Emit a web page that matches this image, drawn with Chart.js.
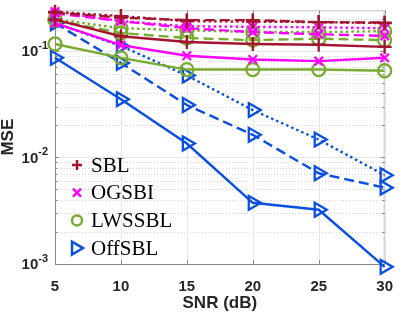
<!DOCTYPE html>
<html>
<head>
<meta charset="utf-8">
<script src="https://cdn.jsdelivr.net/npm/chart.js@4/dist/chart.umd.min.js"></script>
<style>
  html, body { margin: 0; padding: 0; background: #fff; }
  canvas { display: block; }
</style>
</head>
<body>
<canvas id="mse" width="407" height="316"></canvas>
<script>
// SNR (dB) on the x axis
const snr = [5, 10, 15, 20, 25, 30];

// MSE values, three runs per method (solid, dashed, dotted)
const sblSolid  = [0.196, 0.137, 0.121, 0.116, 0.114, 0.109];
const sblDashed = [0.228, 0.205, 0.194, 0.194, 0.186, 0.184];
const sblDotted = [0.232, 0.212, 0.190, 0.188, 0.186, 0.182];

const ogsbiSolid  = [0.182, 0.113, 0.090, 0.083, 0.080, 0.086];
const ogsbiDashed = [0.225, 0.190, 0.163, 0.150, 0.143, 0.138];
const ogsbiDotted = [0.234, 0.190, 0.170, 0.168, 0.166, 0.163];

const lwssblSolid  = [0.116, 0.086, 0.0667, 0.0667, 0.0667, 0.065];
const lwssblDashed = [0.194, 0.147, 0.132, 0.126, 0.130, 0.126];
const lwssblDotted = [0.198, 0.163, 0.156, 0.150, 0.150, 0.153];

const offsblSolid  = [0.086, 0.0352, 0.0135, 0.00375, 0.00323, 0.00094];
const offsblDashed = [0.182, 0.077, 0.031, 0.0163, 0.0071, 0.0052];
const offsblDotted = [0.182, 0.111, 0.0587, 0.0278, 0.0147, 0.0068];

const xTicks = [5, 10, 15, 20, 25, 30];
const yDecades = [-3, -2, -1];

const methods = [
  { name: 'SBL',    color: '#a2142f', marker: 'cross',    rot: 0,  r: 7,   runs: [sblSolid, sblDashed, sblDotted] },
  { name: 'OGSBI',  color: '#ff00ff', marker: 'crossRot', rot: 0,  r: 6,   runs: [ogsbiSolid, ogsbiDashed, ogsbiDotted] },
  { name: 'LWSSBL', color: '#77ac30', marker: 'circle',   rot: 0,  r: 6.5, runs: [lwssblSolid, lwssblDashed, lwssblDotted] },
  { name: 'OffSBL', color: '#0a4fe0', marker: 'triangle', rot: 90, r: 8,   runs: [offsblSolid, offsblDashed, offsblDotted] }
];
const dashes = [[], [10, 5], [2.5, 3]];

const datasets = [];
methods.forEach(m => {
  m.runs.forEach((vals, i) => {
    datasets.push({
      label: m.name,
      data: vals.map((v, k) => ({ x: snr[k], y: v })),
      borderColor: m.color,
      borderWidth: 2.4,
      borderDash: dashes[i],
      backgroundColor: 'rgba(0,0,0,0)',
      pointStyle: m.marker,
      pointRotation: m.rot,
      pointRadius: m.r,
      pointBorderWidth: 2.3,
      pointBorderColor: m.color,
      pointBackgroundColor: 'rgba(0,0,0,0)',
      fill: false,
      tension: 0,
      clip: false
    });
  });
});

function seg(ctx, x1, y1, x2, y2) {
  ctx.beginPath();
  ctx.moveTo(x1, y1);
  ctx.lineTo(x2, y2);
  ctx.stroke();
}

// matlab-ish box, grid and tick marks
const frame = {
  id: 'frame',
  beforeDatasetsDraw(chart) {
    const { ctx, chartArea: a, scales: { x, y } } = chart;
    ctx.save();
    ctx.lineWidth = 1;

    // minor log grid (dotted)
    ctx.strokeStyle = '#d6d6d6';
    ctx.setLineDash([1, 2]);
    yDecades.forEach(e => {
      for (let m = 2; m <= 9; m++) {
        const v = m * Math.pow(10, e);
        if (v > y.max) break;
        const py = Math.round(y.getPixelForValue(v)) + 0.5;
        seg(ctx, a.left, py, a.right, py);
      }
    });

    // major grid
    ctx.setLineDash([]);
    ctx.strokeStyle = '#e6e6e6';
    xTicks.forEach(t => {
      const px = Math.round(x.getPixelForValue(t)) + 0.5;
      seg(ctx, px, a.top, px, a.bottom);
    });
    yDecades.forEach(e => {
      const py = Math.round(y.getPixelForValue(Math.pow(10, e))) + 0.5;
      seg(ctx, a.left, py, a.right, py);
    });

    // box
    ctx.strokeStyle = '#c4c4c4';
    seg(ctx, a.left, a.top + 0.5, a.right, a.top + 0.5);
    seg(ctx, a.right - 0.5, a.top, a.right - 0.5, a.bottom);
    ctx.strokeStyle = '#8a8a8a';
    seg(ctx, a.left + 0.5, a.top, a.left + 0.5, a.bottom + 1);
    seg(ctx, a.left, a.bottom + 0.5, a.right, a.bottom + 0.5);

    // tick marks
    xTicks.forEach(t => {
      const px = Math.round(x.getPixelForValue(t)) + 0.5;
      seg(ctx, px, a.bottom, px, a.bottom - 4);
      seg(ctx, px, a.top, px, a.top + 4);
    });
    yDecades.forEach(e => {
      for (let m = 1; m <= 9; m++) {
        const v = m * Math.pow(10, e);
        if (v > y.max) break;
        const py = Math.round(y.getPixelForValue(v)) + 0.5;
        const len = m === 1 ? 4 : 2.5;
        seg(ctx, a.left, py, a.left + len, py);
        seg(ctx, a.right, py, a.right - len, py);
      }
    });

    // y tick labels 10^e
    ctx.fillStyle = '#262626';
    ctx.textAlign = 'right';
    ctx.textBaseline = 'middle';
    yDecades.forEach(e => {
      const py = y.getPixelForValue(Math.pow(10, e)) + 1;
      const rx = a.left - 7;
      ctx.font = 'bold 11px "Liberation Sans", Arial, sans-serif';
      const sup = '-' + Math.abs(e);
      const sw = ctx.measureText(sup).width;
      ctx.fillText(sup, rx, py - 6);
      ctx.font = 'bold 15px "Liberation Sans", Arial, sans-serif';
      ctx.fillText('10', rx - sw, py);
    });
    ctx.restore();
  }
};

function legendMarker(ctx, m, cx, cy) {
  ctx.save();
  ctx.strokeStyle = m.color;
  ctx.lineWidth = 2.5;
  ctx.beginPath();
  if (m.marker === 'cross') {
    ctx.moveTo(cx - 5, cy); ctx.lineTo(cx + 5, cy);
    ctx.moveTo(cx, cy - 5); ctx.lineTo(cx, cy + 5);
  } else if (m.marker === 'crossRot') {
    ctx.moveTo(cx - 4, cy - 4); ctx.lineTo(cx + 4, cy + 4);
    ctx.moveTo(cx - 4, cy + 4); ctx.lineTo(cx + 4, cy - 4);
  } else if (m.marker === 'circle') {
    ctx.arc(cx, cy, 5, 0, Math.PI * 2);
  } else {
    ctx.moveTo(cx + 6, cy);
    ctx.lineTo(cx - 5, cy - 6.5);
    ctx.lineTo(cx - 5, cy + 6.5);
    ctx.closePath();
  }
  ctx.stroke();
  ctx.restore();
}

// legend sits inside the plot, lower left, no box
const insideLegend = {
  id: 'insideLegend',
  afterDatasetsDraw(chart) {
    const { ctx, chartArea: a } = chart;
    const mx = a.left + 22, tx = a.left + 36;
    let ry = 165;
    ctx.save();
    ctx.font = '21px "Liberation Serif", "Times New Roman", serif';
    ctx.fillStyle = '#000';
    ctx.textAlign = 'left';
    ctx.textBaseline = 'middle';
    methods.forEach(m => {
      legendMarker(ctx, m, mx, ry);
      ctx.fillText(m.name, tx, ry + 1);
      ry += 27.7;
    });
    ctx.restore();
  }
};

new Chart(document.getElementById('mse'), {
  type: 'line',
  data: { datasets },
  options: {
    responsive: false,
    animation: false,
    devicePixelRatio: 1,
    layout: { padding: { top: 7, right: 9, left: 0, bottom: 0 } },
    plugins: { legend: { display: false }, tooltip: { enabled: false } },
    scales: {
      x: {
        type: 'linear',
        min: 5,
        max: 30,
        afterBuildTicks: s => { s.ticks = xTicks.map(v => ({ value: v })); },
        afterFit: s => { s.height = 52; },
        grid: { display: false, drawTicks: false },
        border: { display: false },
        ticks: {
          padding: 14,
          maxRotation: 0,
          color: '#262626',
          font: { family: '"Liberation Sans", Arial, sans-serif', size: 15, weight: 'bold' }
        },
        title: {
          display: true,
          text: 'SNR (dB)',
          color: '#262626',
          padding: { top: 0, bottom: 2 },
          font: { family: '"Liberation Sans", Arial, sans-serif', size: 17, weight: 'bold' }
        }
      },
      y: {
        type: 'logarithmic',
        min: 0.001,
        max: 0.24,
        afterFit: s => { s.width = 55; },
        grid: { display: false, drawTicks: false },
        border: { display: false },
        ticks: { display: false },
        title: {
          display: true,
          text: 'MSE',
          color: '#262626',
          padding: { top: -2, bottom: 0 },
          font: { family: '"Liberation Sans", Arial, sans-serif', size: 17, weight: 'bold' }
        }
      }
    }
  },
  plugins: [frame, insideLegend]
});
</script>
</body>
</html>
